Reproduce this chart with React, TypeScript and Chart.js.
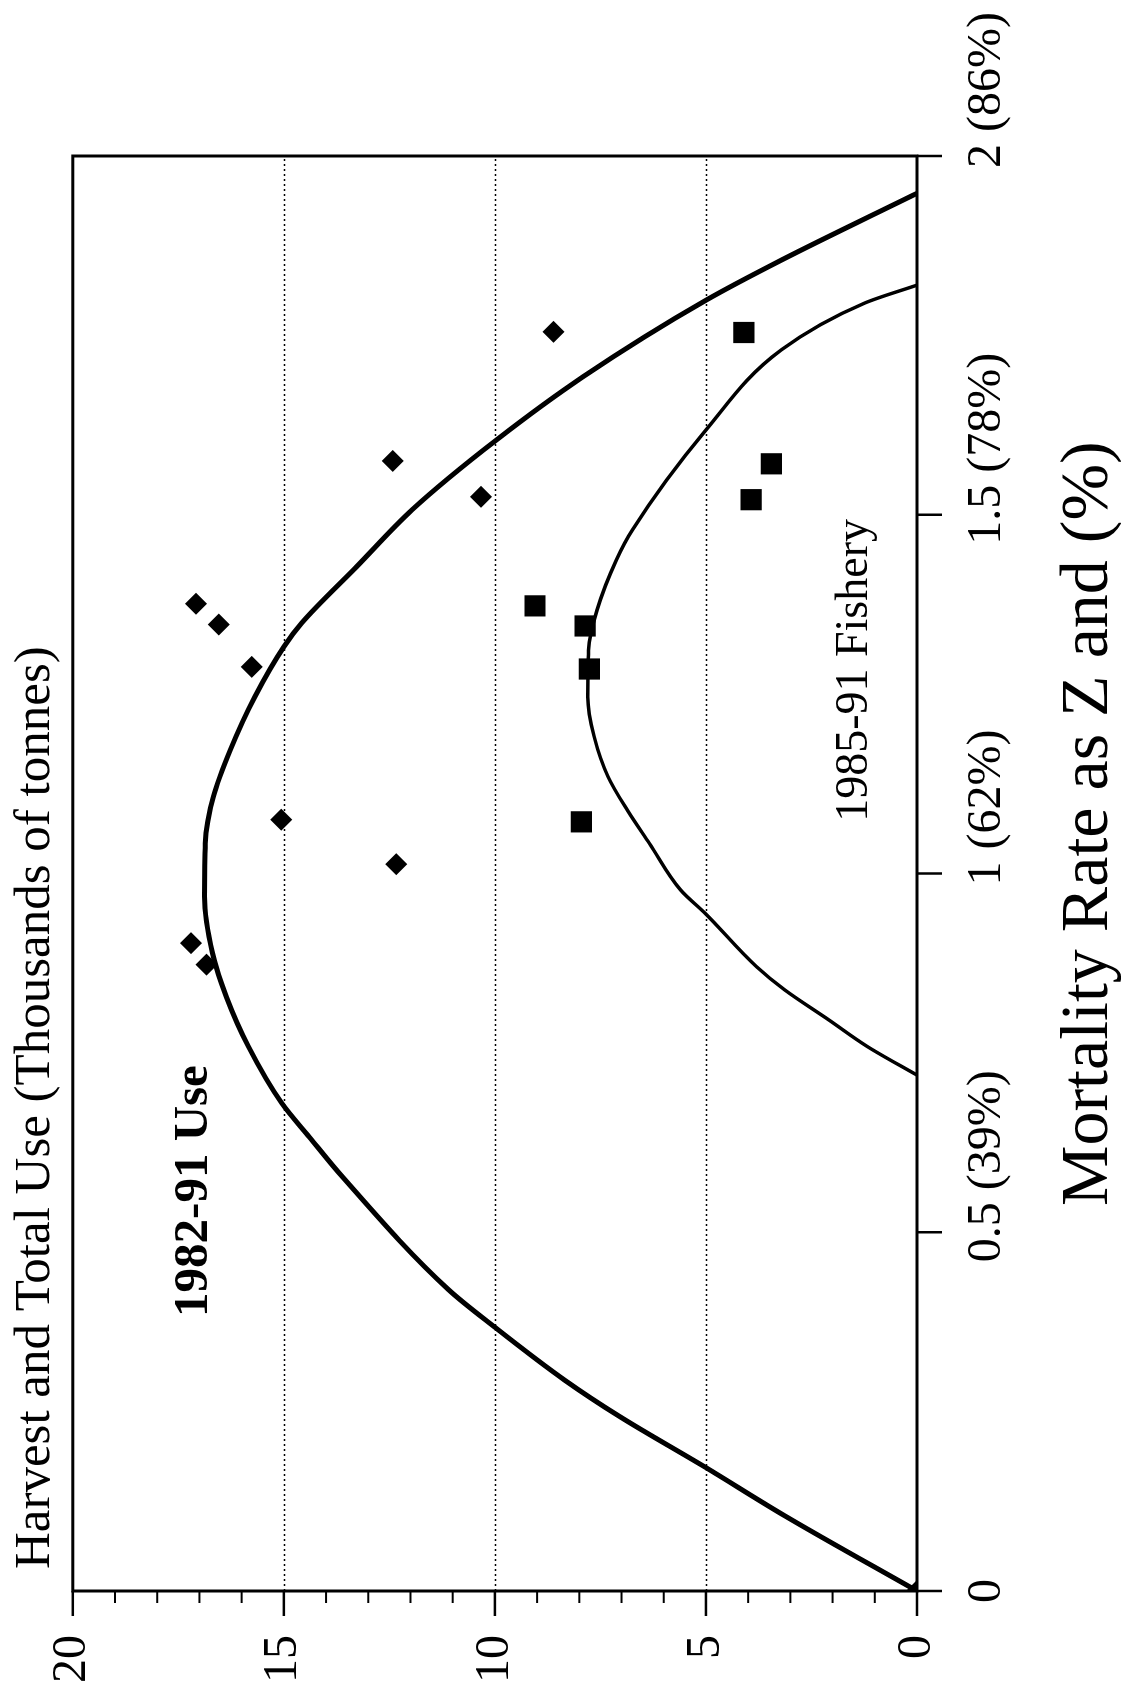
import React, { useEffect, useRef } from 'react';
import { Chart, registerables } from 'chart.js';

Chart.register(...registerables);

// ---- Data (x = mortality rate Z, y = harvest / total use, thousands of tonnes) ----
const useCurveZ = [0, 0.104, 0.173, 0.243, 0.294, 0.368, 0.42, 0.577, 0.633, 0.68, 0.759, 0.828, 0.889, 0.968, 1.042, 1.107, 1.172, 1.246, 1.316, 1.349, 1.428, 1.507, 1.604, 1.692, 1.799, 1.855, 1.948];
const useCurveH = [0, 3.11, 5.03, 7.04, 8.35, 10.01, 11.1, 13.61, 14.4, 15.05, 15.84, 16.36, 16.69, 16.88, 16.86, 16.67, 16.27, 15.69, 15.0, 14.58, 13.27, 11.96, 9.97, 7.92, 5.0, 3.21, 0];

const fisheryCurveZ = [0.719, 0.759, 0.796, 0.838, 0.87, 0.944, 0.977, 1.042, 1.088, 1.135, 1.191, 1.246, 1.311, 1.367, 1.437, 1.479, 1.618, 1.73, 1.795, 1.82];
const fisheryCurveH = [0, 1.18, 2.09, 3.14, 3.8, 5.01, 5.6, 6.34, 6.86, 7.32, 7.65, 7.8, 7.78, 7.58, 7.12, 6.74, 5.0, 3.21, 1.24, 0];

const usePointsZ = [0, 0.873, 0.903, 1.013, 1.075, 1.288, 1.347, 1.376, 1.525, 1.575, 1.755];
const usePointsH = [0, 16.83, 17.2, 12.34, 15.06, 15.76, 16.54, 17.08, 10.33, 12.42, 8.61];

const fisheryPointsZ = [1.072, 1.285, 1.345, 1.373, 1.521, 1.571, 1.754];
const fisheryPointsH = [7.95, 7.76, 7.86, 9.05, 3.93, 3.45, 4.1];

const mortalityTicks = [0, 0.5, 1, 1.5, 2];
const mortalityTickLabels = ['0', '0.5 (39%)', '1 (62%)', '1.5 (78%)', '2 (86%)'];
const harvestMajorTicks = [0, 5, 10, 15, 20];
const harvestGridLines = [5, 10, 15];

const xTitle = 'Mortality Rate as Z and (%)';
const yTitle = 'Harvest and Total Use (Thousands of tonnes)';
const useLabel = '1982-91 Use';
const fisheryLabel = '1985-91 Fishery';

const PAGE_W = 1121;
const PAGE_H = 1686;
const SERIF = '"Liberation Serif", "Times New Roman", serif';

const zip = (xs: number[], ys: number[]) => xs.map((x, i) => ({ x, y: ys[i] }));

const decorPlugin = {
  id: 'decor',
  beforeDatasetsDraw(chart: any) {
    const { ctx, chartArea: a, scales } = chart;
    const y = scales.y;
    ctx.save();
    ctx.strokeStyle = '#000';
    ctx.lineWidth = 1.3;
    ctx.setLineDash([2, 3]);
    for (const v of harvestGridLines) {
      const py = Math.round(y.getPixelForValue(v)) + 0.5;
      ctx.beginPath();
      ctx.moveTo(a.left, py);
      ctx.lineTo(a.right, py);
      ctx.stroke();
    }
    ctx.restore();
  },
  afterDraw(chart: any) {
    const { ctx, chartArea: a, scales } = chart;
    const x = scales.x;
    const y = scales.y;
    ctx.save();
    ctx.strokeStyle = '#000';
    ctx.fillStyle = '#000';
    ctx.setLineDash([]);
    // frame
    ctx.lineWidth = 3;
    ctx.strokeRect(a.left, a.top, a.right - a.left, a.bottom - a.top);
    // mortality ticks
    ctx.lineWidth = 2.5;
    for (const v of mortalityTicks) {
      const px = x.getPixelForValue(v);
      ctx.beginPath();
      ctx.moveTo(px, a.bottom);
      ctx.lineTo(px, a.bottom + 25);
      ctx.stroke();
    }
    // harvest ticks (major + minor)
    for (let v = 0; v <= 20; v += 1) {
      const py = y.getPixelForValue(v);
      const major = harvestMajorTicks.includes(v);
      ctx.lineWidth = major ? 2.5 : 2;
      ctx.beginPath();
      ctx.moveTo(a.left, py);
      ctx.lineTo(a.left - (major ? 25 : 12), py);
      ctx.stroke();
    }
    // mortality tick labels: number centered on the tick
    ctx.font = `48px ${SERIF}`;
    ctx.textAlign = 'left';
    ctx.textBaseline = 'alphabetic';
    mortalityTicks.forEach((v, i) => {
      const px = x.getPixelForValue(v);
      const w = ctx.measureText(String(v)).width;
      ctx.fillText(mortalityTickLabels[i], px - w / 2, a.bottom + 83);
    });
    // axis titles
    ctx.font = `68px ${SERIF}`;
    ctx.fillText(xTitle, 480, 1107);
    ctx.font = `51px ${SERIF}`;
    ctx.fillText(yTitle, 117, 49);
    // curve labels
    ctx.font = `bold 49px ${SERIF}`;
    ctx.fillText(useLabel, x.getPixelForValue(0.382), y.getPixelForValue(16.81));
    ctx.font = `46px ${SERIF}`;
    ctx.fillText(fisheryLabel, x.getPixelForValue(1.072), y.getPixelForValue(1.18));
    ctx.restore();
  },
};

export default function App() {
  const canvasRef = useRef<HTMLCanvasElement | null>(null);

  useEffect(() => {
    const canvas = canvasRef.current;
    if (!canvas) return;
    const chart = new Chart(canvas, {
      type: 'scatter',
      data: {
        datasets: [
          {
            type: 'line',
            label: useLabel + ' curve',
            data: zip(useCurveZ, useCurveH),
            borderColor: '#000',
            borderWidth: 5,
            pointRadius: 0,
            cubicInterpolationMode: 'monotone',
            fill: false,
          } as any,
          {
            type: 'line',
            label: fisheryLabel + ' curve',
            data: zip(fisheryCurveZ, fisheryCurveH),
            borderColor: '#000',
            borderWidth: 3.5,
            pointRadius: 0,
            cubicInterpolationMode: 'monotone',
            fill: false,
          } as any,
          {
            label: useLabel,
            data: zip(usePointsZ, usePointsH),
            pointStyle: 'rectRot',
            pointRadius: 11,
            backgroundColor: '#000',
            borderColor: '#000',
            borderWidth: 0,
          },
          {
            label: fisheryLabel,
            data: zip(fisheryPointsZ, fisheryPointsH),
            pointStyle: 'rect',
            pointRadius: 15,
            backgroundColor: '#000',
            borderColor: '#000',
            borderWidth: 0,
          },
        ],
      },
      options: {
        animation: false,
        responsive: false,
        devicePixelRatio: 1,
        layout: { padding: { top: 70, right: 156, left: 0, bottom: 0 } },
        plugins: { legend: { display: false }, tooltip: { enabled: false } },
        scales: {
          x: {
            type: 'linear',
            min: 0,
            max: 2,
            grid: { display: false, drawTicks: false },
            border: { display: false },
            ticks: { display: false },
            afterFit: (s: any) => {
              s.height = 204;
            },
          },
          y: {
            type: 'linear',
            min: 0,
            max: 20,
            ticks: {
              stepSize: 5,
              color: '#000',
              padding: 44,
              font: { family: SERIF, size: 48 },
            },
            grid: { display: false, drawTicks: false },
            border: { display: false },
            afterFit: (s: any) => {
              s.width = 95;
            },
          },
        },
      } as any,
      plugins: [decorPlugin],
    });
    return () => chart.destroy();
  }, []);

  return (
    <div
      style={{
        position: 'fixed',
        left: 0,
        top: 0,
        width: PAGE_W,
        height: PAGE_H,
        overflow: 'hidden',
        background: '#fff',
      }}
    >
      <canvas
        ref={canvasRef}
        width={PAGE_H}
        height={PAGE_W}
        style={{
          position: 'absolute',
          left: 0,
          top: PAGE_H,
          width: PAGE_H,
          height: PAGE_W,
          transform: 'rotate(-90deg)',
          transformOrigin: '0 0',
        }}
      />
    </div>
  );
}
